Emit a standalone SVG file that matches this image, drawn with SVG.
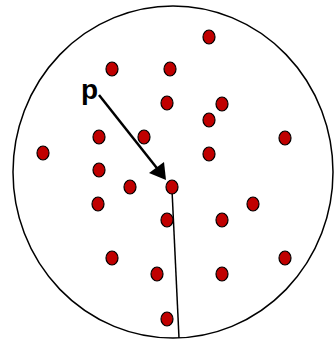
<svg xmlns="http://www.w3.org/2000/svg" width="334" height="344" viewBox="0 0 334 344">
<style>
.dot{fill:#c00000;stroke:#000;stroke-width:1.2}
.lbl{font-family:"Liberation Sans",Arial,sans-serif;font-weight:bold;font-size:28px;fill:#000}
</style>
<rect width="334" height="344" fill="#fff"/>
<g id="boundary"><ellipse cx="173" cy="172" rx="160" ry="166" fill="none" stroke="#000" stroke-width="1.5"/></g>
<g id="connectors">
<line x1="99" y1="95" x2="160" y2="172" stroke="#000" stroke-width="2.5"/>
<path d="M149,173 L166,180 L164,162 Z" fill="#000"/>
<line x1="172" y1="190" x2="179" y2="338" stroke="#000" stroke-width="1.5"/>
</g>
<g id="label-p"><text class="lbl" x="81" y="99">p</text></g>
<g id="points">
<ellipse class="dot" cx="209" cy="37" rx="6" ry="7"/>
<ellipse class="dot" cx="112" cy="69" rx="6" ry="7"/>
<ellipse class="dot" cx="170" cy="69" rx="6" ry="7"/>
<ellipse class="dot" cx="167" cy="103" rx="6" ry="7"/>
<ellipse class="dot" cx="222" cy="104" rx="6" ry="7"/>
<ellipse class="dot" cx="209" cy="120" rx="6" ry="7"/>
<ellipse class="dot" cx="99" cy="137" rx="6" ry="7"/>
<ellipse class="dot" cx="144" cy="137" rx="6" ry="7"/>
<ellipse class="dot" cx="285" cy="138" rx="6" ry="7"/>
<ellipse class="dot" cx="43" cy="153" rx="6" ry="7"/>
<ellipse class="dot" cx="209" cy="154" rx="6" ry="7"/>
<ellipse class="dot" cx="99" cy="170" rx="6" ry="7"/>
<ellipse class="dot" cx="130" cy="187" rx="6" ry="7"/>
<ellipse class="dot" cx="172" cy="187" rx="6" ry="7"/>
<ellipse class="dot" cx="98" cy="204" rx="6" ry="7"/>
<ellipse class="dot" cx="253" cy="204" rx="6" ry="7"/>
<ellipse class="dot" cx="167" cy="220" rx="6" ry="7"/>
<ellipse class="dot" cx="222" cy="220" rx="6" ry="7"/>
<ellipse class="dot" cx="112" cy="258" rx="6" ry="7"/>
<ellipse class="dot" cx="285" cy="258" rx="6" ry="7"/>
<ellipse class="dot" cx="157" cy="274" rx="6" ry="7"/>
<ellipse class="dot" cx="222" cy="274" rx="6" ry="7"/>
<ellipse class="dot" cx="167" cy="319" rx="6" ry="7"/>
</g>
</svg>
